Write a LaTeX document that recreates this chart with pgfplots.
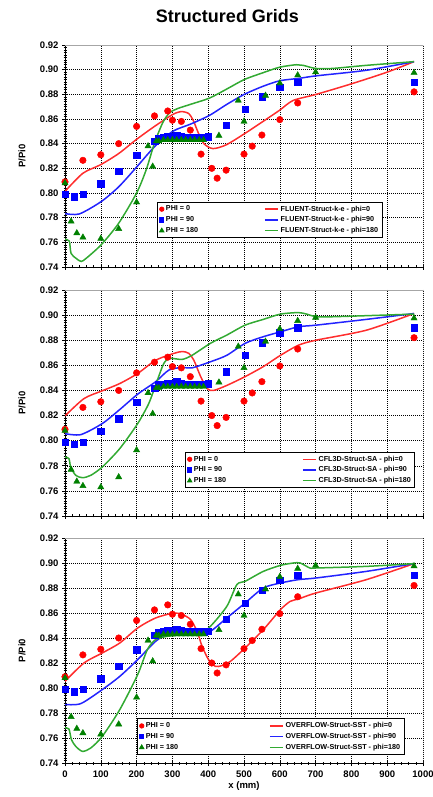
\documentclass[border=0pt]{standalone}
\usepackage{fontspec}
\setmainfont{Liberation Sans}
\usepackage{pgfplots}
\usepackage{pgfplotstable}
\pgfplotsset{compat=1.18}

\definecolor{mred}{RGB}{255,0,0}
\definecolor{mblue}{RGB}{0,0,255}
\definecolor{mgreen}{RGB}{0,128,0}
\definecolor{lred}{RGB}{255,45,45}
\definecolor{lblue}{RGB}{35,35,255}
\definecolor{lgreen}{RGB}{50,170,50}

% experimental data (same in all panels)
\pgfplotstableread{
x y
0 0.809
50 0.8265
100 0.831
150 0.840
200 0.854
250 0.8625
287 0.8665
300 0.859
325 0.858
350 0.851
380 0.8315
410 0.820
425 0.812
450 0.8185
500 0.8315
523 0.838
550 0.847
600 0.8595
650 0.873
975 0.882
}\phiA
\pgfplotstableread{
x y
0 0.799
25 0.797
50 0.799
100 0.8075
150 0.8175
200 0.8305
250 0.842
262 0.8445
275 0.845
287 0.846
300 0.846
312 0.847
325 0.846
337 0.845
350 0.845
362 0.845
375 0.845
387 0.845
400 0.8455
450 0.855
503 0.868
550 0.878
600 0.886
650 0.890
975 0.890
}\phiB
\pgfplotstableread{
x y
0 0.808
17 0.777
33 0.7675
50 0.764
100 0.763
150 0.771
200 0.7925
232 0.838
245 0.8215
255 0.842
262 0.842
275 0.843
287 0.843
300 0.843
312 0.843
325 0.843
337 0.843
350 0.843
362 0.843
375 0.843
387 0.843
430 0.8465
484 0.875
500 0.858
560 0.879
600 0.889
650 0.8955
700 0.898
975 0.8975
}\phiC

% FLUENT
\pgfplotstableread{
x y
0 0.8013
50 0.816
100 0.823
150 0.832
200 0.8435
250 0.854
300 0.8635
324 0.866
345 0.8645
358 0.859
372 0.849
388 0.840
413 0.836
450 0.839
501 0.848
553 0.858
599 0.867
637 0.875
702 0.880
800 0.8885
900 0.898
975 0.9065
}\fluA
\pgfplotstableread{
x y
0 0.7833
40 0.783
101 0.793
150 0.805
200 0.821
250 0.8375
301 0.850
352 0.856
404 0.863
450 0.8715
501 0.880
553 0.8865
600 0.891
655 0.893
702 0.895
842 0.8995
975 0.9065
}\fluB
\pgfplotstableread{
x y
0 0.7625
12 0.761
17 0.751
31 0.747
45 0.7445
59 0.747
101 0.758
150 0.7755
200 0.800
227 0.819
250 0.8405
273 0.857
292 0.865
315 0.8685
352 0.872
404 0.877
450 0.884
501 0.892
553 0.8975
600 0.902
646 0.904
665 0.9035
700 0.901
748 0.901
842 0.9035
975 0.9065
}\fluC

% CFL3D
\pgfplotstableread{
x y
0 0.8197
53 0.8335
104 0.8397
153 0.8455
203 0.8535
253 0.864
304 0.8695
328 0.871
346 0.8695
360 0.864
379 0.851
397 0.8415
415 0.840
452 0.844
503 0.851
554 0.859
602 0.868
652 0.876
701 0.880
842 0.888
975 0.9013
}\cflA
\pgfplotstableread{
x y
0 0.8056
44 0.8048
104 0.8136
153 0.8248
203 0.837
253 0.8469
290 0.8562
327 0.8583
355 0.858
406 0.8628
452 0.868
503 0.8775
554 0.8828
602 0.8867
652 0.8907
701 0.892
842 0.8966
975 0.9013
}\cflB
\pgfplotstableread{
x y
0 0.787
11 0.7857
16 0.779
30 0.7724
49 0.7705
72 0.7724
104 0.779
153 0.7937
203 0.8136
234 0.8296
253 0.8442
276 0.8615
294 0.8655
327 0.8647
355 0.868
406 0.8775
452 0.8841
503 0.892
554 0.8966
602 0.9008
652 0.902
675 0.9008
701 0.8987
749 0.8987
975 0.9008
}\cflC

% OVERFLOW
\pgfplotstableread{
x y
0 0.8053
53 0.820
104 0.828
153 0.836
203 0.848
253 0.856
304 0.860
328 0.8587
351 0.8547
369 0.8453
383 0.8333
401 0.8227
420 0.8173
438 0.8179
462 0.8213
503 0.832
554 0.8467
602 0.8627
629 0.8693
652 0.8712
701 0.876
842 0.8867
975 0.8995
}\ovfA
\pgfplotstableread{
x y
0 0.7868
44 0.7875
104 0.7987
153 0.8093
203 0.8227
253 0.8373
285 0.8427
327 0.844
378 0.844
406 0.8453
452 0.856
503 0.868
554 0.880
602 0.884
652 0.8867
701 0.888
842 0.8933
975 0.8995
}\ovfB
\pgfplotstableread{
x y
0 0.768
11 0.7672
18 0.7587
30 0.7533
49 0.7493
72 0.752
104 0.7613
153 0.7827
203 0.8107
230 0.8307
253 0.8387
285 0.8413
327 0.8427
378 0.844
406 0.8493
452 0.8653
480 0.8827
503 0.8853
554 0.8933
602 0.8981
638 0.900
657 0.900
684 0.896
701 0.896
842 0.8973
975 0.8995
}\ovfC

\pgfplotsset{
  panel/.style={
    scale only axis, width=358pt, xmin=0, xmax=1000, ymin=0.74, ymax=0.92,
    xtick={0,100,...,1000},
    ytick={0.74,0.76,0.78,0.80,0.82,0.84,0.86,0.88,0.90,0.92},
    yticklabels={0.74,0.76,0.78,0.80,0.82,0.84,0.86,0.88,0.90,0.92},
    minor x tick num=4, minor y tick num=9,
    axis x line*=bottom, axis y line*=left,
    axis line style={black, line width=0.8pt, -},
    tick align=center, major tick length=6pt, minor tick length=3pt,
    every tick/.style={black, line width=0.6pt},
    every minor tick/.style={black, line width=0.45pt},
    grid=major,
    major grid style={black, line width=0.45pt, dash pattern=on 1.2pt off 0.8pt},
    tick label style={font=\bfseries\fontsize{9.5}{11}\selectfont},
    xticklabel style={/pgf/number format/1000 sep={}, yshift=-1pt},
    /pgf/number format/assume math mode=true,
    ylabel={P/Pi0},
    every axis y label/.style={at={(axis description cs:0,0.5)}, xshift=-43pt, rotate=90, anchor=center, font=\bfseries\fontsize{9.5}{11}\selectfont},
    every axis x label/.style={at={(axis description cs:0.5,0)}, yshift=-23pt, anchor=center, font=\bfseries\fontsize{9.5}{11}\selectfont},
    legend cell align=left,
    legend columns=2,
    legend style={draw=black, line width=0.8pt, fill=white,
      font=\bfseries\fontsize{7.2}{8}\selectfont, anchor=north west,
      inner sep=1.8pt, row sep=0pt},
  },
  expA/.style={only marks, mark=*, mark size=3.3pt, color=mred, forget plot},
  expB/.style={only marks, mark=square*, mark size=3.2pt, color=mblue, forget plot},
  expC/.style={only marks, mark=triangle*, mark size=3.6pt, color=mgreen, forget plot},
  ln/.style={no marks, smooth, tension=0.45, line width=1.5pt, forget plot},
  markleg/.style={only marks, legend image code/.code={\draw[##1] plot coordinates {(3pt,0pt)};}},
  lineleg/.style={legend image code/.code={\draw[##1] (0pt,0pt) -- (13pt,0pt);}},
}

\newcommand{\explots}{%
  \addplot[expA] table {\phiA};
  \addplot[expB] table {\phiB};
  \addplot[expC] table {\phiC};
}
\newcommand{\legs}[1]{%
  \addlegendimage{markleg, mark=*, mark size=2.2pt, color=mred}
  \addlegendentry{PHI = 0}
  \addlegendimage{lineleg, color=lred, line width=1.5pt}
  \addlegendentry{#1 - phi=0}
  \addlegendimage{markleg, mark=square*, mark size=2.1pt, color=mblue}
  \addlegendentry{PHI = 90}
  \addlegendimage{lineleg, color=lblue, line width=1.5pt}
  \addlegendentry{#1 - phi=90}
  \addlegendimage{markleg, mark=triangle*, mark size=2.5pt, color=mgreen}
  \addlegendentry{PHI = 180}
  \addlegendimage{lineleg, color=lgreen, line width=1.5pt}
  \addlegendentry{#1 - phi=180}
  \draw[gray!70, line width=0.6pt] (rel axis cs:0,1) -- (rel axis cs:1,1) -- (rel axis cs:1,0);
}

\begin{document}
\begin{tikzpicture}
\useasboundingbox (0pt,0pt) rectangle (432pt,797pt);
\node[font=\bfseries\fontsize{18}{20}\selectfont] at (227.5pt,780.5pt) {Structured Grids};

% panel 1
\begin{axis}[panel, at={(65pt,530pt)}, anchor=south west, height=222pt,
  xticklabels={},
  legend style={at={(axis cs:258,0.793)}, /tikz/every even column/.append style={column sep=64pt}}]
\explots
\addplot[ln, lred] table {\fluA};
\addplot[ln, lblue] table {\fluB};
\addplot[ln, lgreen] table {\fluC};
\legs{FLUENT-Struct-k-e}
\end{axis}

% panel 2
\begin{axis}[panel, at={(65pt,281pt)}, anchor=south west, height=226pt,
  xticklabels={},
  legend style={at={(axis cs:336,0.7912)}, /tikz/every even column/.append style={column sep=74pt}}]
\explots
\addplot[ln, lred] table {\cflA};
\addplot[ln, lblue] table {\cflB};
\addplot[ln, lgreen] table {\cflC};
\legs{CFL3D-Struct-SA}
\end{axis}

% panel 3
\begin{axis}[panel, at={(65pt,34pt)}, anchor=south west, height=225pt,
  xlabel={x (mm)},
  legend style={at={(axis cs:202,0.7757)}, /tikz/every even column/.append style={column sep=89pt}}]
\explots
\addplot[ln, lred] table {\ovfA};
\addplot[ln, lblue] table {\ovfB};
\addplot[ln, lgreen] table {\ovfC};
\legs{OVERFLOW-Struct-SST}
\end{axis}
\end{tikzpicture}
\end{document}
